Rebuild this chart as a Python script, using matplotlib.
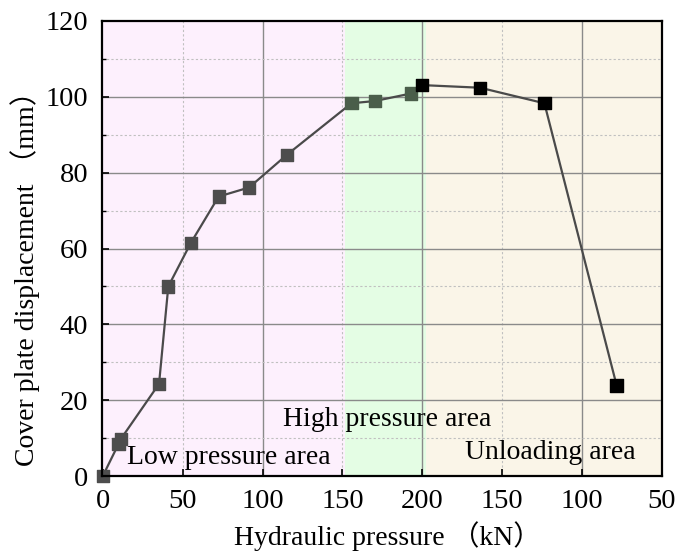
import matplotlib
matplotlib.use("Agg")
import matplotlib.pyplot as plt
from matplotlib.ticker import MultipleLocator

plt.rcParams['font.family'] = ['Liberation Serif', 'Noto Sans CJK SC']

# ---- data (x is position along the load path: 0-200 loading, 200-350 unloading)
pos = [0, 9.8, 11.2, 35.2, 41.0, 55.0, 72.5, 91.6, 115.2,
       155.6, 170.4, 193.1, 199.6, 236.2, 276.4, 321.6]
disp = [0, 8.4, 9.7, 24.3, 50.0, 61.4, 73.7, 76.1, 84.7,
        98.3, 98.9, 100.9, 103.1, 102.4, 98.3, 23.9]
marker_colors = ['#4d4d4d'] * 9 + ['#4a5e4a'] * 3 + ['#000000'] * 4

tick_pos = [0, 50, 100, 150, 200, 250, 300, 350]
tick_labels = ['0', '50', '100', '150', '200', '150', '100', '50']

regions = [(-2, 151.5, '#fdf0fd'), (151.5, 202.5, '#e4fde4'), (202.5, 350, '#faf5e8')]

fig = plt.figure(figsize=(6.75, 5.51), dpi=100)
ax = fig.add_axes([102 / 675, (551 - 476) / 551, (662 - 102) / 675, (476 - 21) / 551])

for x0, x1, c in regions:
    ax.axvspan(x0, x1, color=c, zorder=0, lw=0)

ax.plot(pos, disp, color='#4a4a4a', lw=1.6, zorder=3, clip_on=False)
ax.scatter(pos, disp, marker='s', s=78, c=marker_colors, zorder=4, clip_on=False)

ax.set_xlim(-0.5, 350)
ax.set_ylim(0, 120)
ax.set_xticks(tick_pos)
ax.set_xticklabels(tick_labels)
ax.yaxis.set_major_locator(MultipleLocator(20))
ax.yaxis.set_minor_locator(MultipleLocator(10))

# solid grid every 100 on x / 20 on y, dotted in between
for xv in [100, 200, 300]:
    ax.axvline(xv, color='#8a8a8a', lw=1.0, zorder=1)
for xv in [50, 150, 250]:
    ax.axvline(xv, color='#c0c0c0', lw=0.8, ls=(0, (2, 2)), zorder=1)
for yv in [20, 40, 60, 80, 100]:
    ax.axhline(yv, color='#8a8a8a', lw=1.0, zorder=1)
for yv in [10, 30, 50, 70, 90, 110]:
    ax.axhline(yv, color='#c0c0c0', lw=0.8, ls=(0, (2, 2)), zorder=1)

ax.tick_params(axis='both', which='major', direction='in', length=5, width=1.2,
               labelsize=20.5)
ax.tick_params(axis='x', which='major', pad=9)
ax.tick_params(axis='y', which='major', pad=10)
ax.tick_params(axis='y', which='minor', direction='in', length=3, width=1)
for s in ax.spines.values():
    s.set_linewidth(1.6)
    s.set_zorder(5)

ax.set_xlabel('Hydraulic pressure （kN）', fontsize=20)
ax.set_ylabel('Cover plate displacement （mm）', fontsize=20)
ax.xaxis.set_label_coords(0.51, -0.1)
ax.yaxis.set_label_coords(-0.11, 0.45)

ax.text(15, 5.0, 'Low pressure area', fontsize=20, va='center', ha='left', zorder=6)
ax.text(113, 14.9, 'High pressure area', fontsize=20, va='center', ha='left', zorder=6)
ax.text(227, 6.1, 'Unloading area', fontsize=20, va='center', ha='left', zorder=6)

fig.savefig('out.png', dpi=100)
